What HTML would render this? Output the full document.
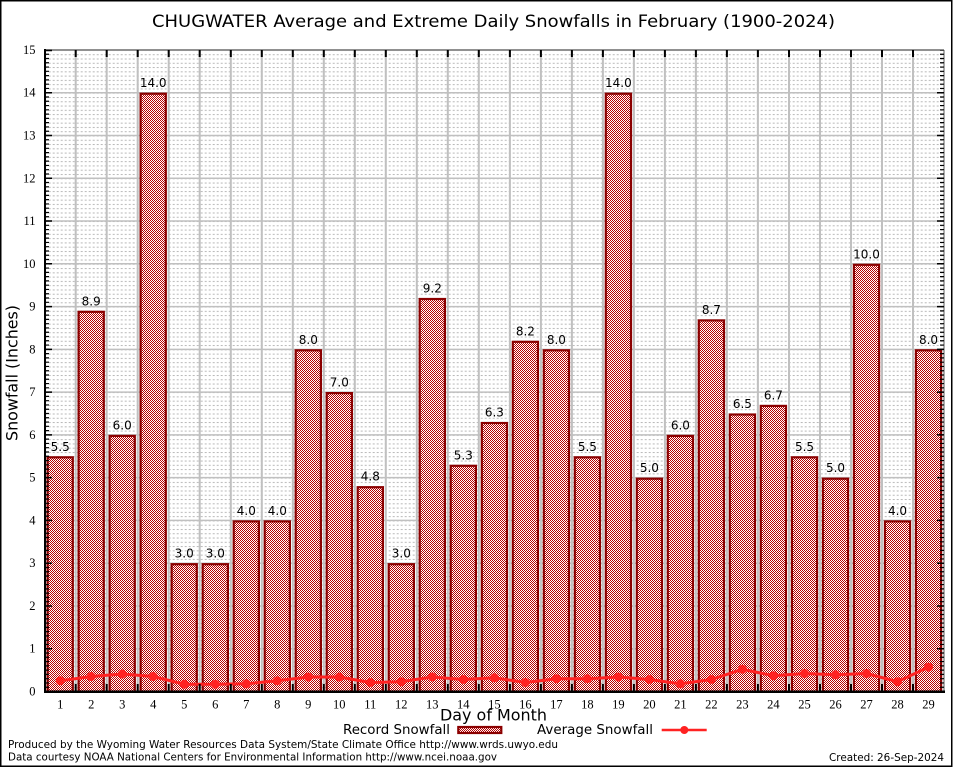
<!DOCTYPE html>
<html>
<head>
<meta charset="utf-8">
<style>
html,body{margin:0;padding:0;background:#fff;}
svg{display:block;}
text{font-family:"DejaVu Sans","Liberation Sans",sans-serif;fill:#000;}
.serif{font-family:"Liberation Serif","DejaVu Serif",serif;font-size:12.5px;}
.val{font-size:12px;text-anchor:middle;}
</style>
</head>
<body>
<svg width="954" height="768" viewBox="0 0 954 768" xmlns="http://www.w3.org/2000/svg">
<defs>
  <pattern id="chk" patternUnits="userSpaceOnUse" width="2" height="2">
    <rect width="2" height="2" fill="#ffffff"/>
    <rect width="1" height="1" fill="#b80000"/>
    <rect x="1" y="1" width="1" height="1" fill="#b80000"/>
  </pattern>
  <pattern id="minor" patternUnits="userSpaceOnUse" x="44.7" y="49.95" width="4" height="4.277">
    <rect x="0" y="0" width="2" height="1" fill="#b8b8b8"/>
  </pattern>
</defs>
<rect x="0" y="0" width="954" height="768" fill="#fff"/>
<rect x="0.75" y="0.75" width="951" height="765.5" fill="none" stroke="#000" stroke-width="1.5"/>

<text x="493.5" y="27" font-size="17" text-anchor="middle" textLength="683" lengthAdjust="spacingAndGlyphs">CHUGWATER Average and Extreme Daily Snowfalls in February (1900-2024)</text>

<rect x="45" y="50" width="899" height="641.5" fill="url(#minor)"/>

<g stroke="#c0c0c0" stroke-width="1.5">
<line x1="45" x2="944" y1="648.73" y2="648.73"/>
<line x1="45" x2="944" y1="605.96" y2="605.96"/>
<line x1="45" x2="944" y1="563.19" y2="563.19"/>
<line x1="45" x2="944" y1="520.42" y2="520.42"/>
<line x1="45" x2="944" y1="477.65" y2="477.65"/>
<line x1="45" x2="944" y1="434.88" y2="434.88"/>
<line x1="45" x2="944" y1="392.11" y2="392.11"/>
<line x1="45" x2="944" y1="349.34" y2="349.34"/>
<line x1="45" x2="944" y1="306.57" y2="306.57"/>
<line x1="45" x2="944" y1="263.8" y2="263.8"/>
<line x1="45" x2="944" y1="221.03" y2="221.03"/>
<line x1="45" x2="944" y1="178.26" y2="178.26"/>
<line x1="45" x2="944" y1="135.49" y2="135.49"/>
<line x1="45" x2="944" y1="92.72" y2="92.72"/>
</g>
<g stroke="#c0c0c0" stroke-width="2">
<line x1="75.7" x2="75.7" y1="50" y2="691"/>
<line x1="106.7" x2="106.7" y1="50" y2="691"/>
<line x1="137.7" x2="137.7" y1="50" y2="691"/>
<line x1="168.7" x2="168.7" y1="50" y2="691"/>
<line x1="199.7" x2="199.7" y1="50" y2="691"/>
<line x1="230.8" x2="230.8" y1="50" y2="691"/>
<line x1="261.8" x2="261.8" y1="50" y2="691"/>
<line x1="292.8" x2="292.8" y1="50" y2="691"/>
<line x1="323.8" x2="323.8" y1="50" y2="691"/>
<line x1="354.8" x2="354.8" y1="50" y2="691"/>
<line x1="385.8" x2="385.8" y1="50" y2="691"/>
<line x1="416.8" x2="416.8" y1="50" y2="691"/>
<line x1="447.8" x2="447.8" y1="50" y2="691"/>
<line x1="478.8" x2="478.8" y1="50" y2="691"/>
<line x1="509.9" x2="509.9" y1="50" y2="691"/>
<line x1="540.9" x2="540.9" y1="50" y2="691"/>
<line x1="571.9" x2="571.9" y1="50" y2="691"/>
<line x1="602.9" x2="602.9" y1="50" y2="691"/>
<line x1="633.9" x2="633.9" y1="50" y2="691"/>
<line x1="664.9" x2="664.9" y1="50" y2="691"/>
<line x1="695.9" x2="695.9" y1="50" y2="691"/>
<line x1="726.9" x2="726.9" y1="50" y2="691"/>
<line x1="757.9" x2="757.9" y1="50" y2="691"/>
<line x1="789" x2="789" y1="50" y2="691"/>
<line x1="820" x2="820" y1="50" y2="691"/>
<line x1="851" x2="851" y1="50" y2="691"/>
<line x1="882" x2="882" y1="50" y2="691"/>
<line x1="913" x2="913" y1="50" y2="691"/>
</g>

<g fill="url(#chk)" stroke="#8b0000" stroke-width="2.2">
<rect x="47.6" y="457.3" width="25.2" height="234.2"/>
<rect x="78.6" y="311.8" width="25.2" height="379.7"/>
<rect x="109.6" y="435.9" width="25.2" height="255.6"/>
<rect x="140.6" y="93.7" width="25.2" height="597.8"/>
<rect x="171.6" y="564.2" width="25.2" height="127.3"/>
<rect x="202.7" y="564.2" width="25.2" height="127.3"/>
<rect x="233.7" y="521.4" width="25.2" height="170.1"/>
<rect x="264.7" y="521.4" width="25.2" height="170.1"/>
<rect x="295.7" y="350.3" width="25.2" height="341.2"/>
<rect x="326.7" y="393.1" width="25.2" height="298.4"/>
<rect x="357.7" y="487.2" width="25.2" height="204.3"/>
<rect x="388.7" y="564.2" width="25.2" height="127.3"/>
<rect x="419.7" y="299" width="25.2" height="392.5"/>
<rect x="450.7" y="465.8" width="25.2" height="225.7"/>
<rect x="481.8" y="423" width="25.2" height="268.5"/>
<rect x="512.8" y="341.8" width="25.2" height="349.7"/>
<rect x="543.8" y="350.3" width="25.2" height="341.2"/>
<rect x="574.8" y="457.3" width="25.2" height="234.2"/>
<rect x="605.8" y="93.7" width="25.2" height="597.8"/>
<rect x="636.8" y="478.7" width="25.2" height="212.8"/>
<rect x="667.8" y="435.9" width="25.2" height="255.6"/>
<rect x="698.8" y="320.4" width="25.2" height="371.1"/>
<rect x="729.8" y="414.5" width="25.2" height="277"/>
<rect x="760.8" y="405.9" width="25.2" height="285.6"/>
<rect x="791.9" y="457.3" width="25.2" height="234.2"/>
<rect x="822.9" y="478.7" width="25.2" height="212.8"/>
<rect x="853.9" y="264.8" width="25.2" height="426.7"/>
<rect x="884.9" y="521.4" width="25.2" height="170.1"/>
<rect x="915.9" y="350.3" width="25.2" height="341.2"/>
</g>

<g class="val">
<text class="val" x="60.2" y="450.8">5.5</text>
<text class="val" x="91.2" y="305.3">8.9</text>
<text class="val" x="122.2" y="429.4">6.0</text>
<text class="val" x="153.2" y="87.2">14.0</text>
<text class="val" x="184.2" y="557.7">3.0</text>
<text class="val" x="215.3" y="557.7">3.0</text>
<text class="val" x="246.3" y="514.9">4.0</text>
<text class="val" x="277.3" y="514.9">4.0</text>
<text class="val" x="308.3" y="343.8">8.0</text>
<text class="val" x="339.3" y="386.6">7.0</text>
<text class="val" x="370.3" y="480.7">4.8</text>
<text class="val" x="401.3" y="557.7">3.0</text>
<text class="val" x="432.3" y="292.5">9.2</text>
<text class="val" x="463.3" y="459.3">5.3</text>
<text class="val" x="494.4" y="416.5">6.3</text>
<text class="val" x="525.4" y="335.3">8.2</text>
<text class="val" x="556.4" y="343.8">8.0</text>
<text class="val" x="587.4" y="450.8">5.5</text>
<text class="val" x="618.4" y="87.2">14.0</text>
<text class="val" x="649.4" y="472.2">5.0</text>
<text class="val" x="680.4" y="429.4">6.0</text>
<text class="val" x="711.4" y="313.9">8.7</text>
<text class="val" x="742.4" y="408">6.5</text>
<text class="val" x="773.4" y="399.4">6.7</text>
<text class="val" x="804.5" y="450.8">5.5</text>
<text class="val" x="835.5" y="472.2">5.0</text>
<text class="val" x="866.5" y="258.3">10.0</text>
<text class="val" x="897.5" y="514.9">4.0</text>
<text class="val" x="928.5" y="343.8">8.0</text>
</g>

<polyline fill="none" stroke="#ff2222" stroke-width="3" stroke-linejoin="round" points="60.2,680.8 91.2,676.5 122.2,674 153.2,676.5 184.2,684.2 215.3,684.2 246.3,683.8 277.3,680.8 308.3,677 339.3,677 370.3,682.5 401.3,681.7 432.3,677 463.3,679.5 494.4,677.8 525.4,682.5 556.4,678.7 587.4,678.7 618.4,677 649.4,679.5 680.4,683.8 711.4,679.5 742.4,669.3 773.4,675.7 804.5,673.5 835.5,674.8 866.5,673.5 897.5,681.7 928.5,667.1"/>
<g fill="#ff2222">
<circle cx="60.2" cy="680.8" r="4.5"/><circle cx="91.2" cy="676.5" r="4.5"/><circle cx="122.2" cy="674" r="4.5"/><circle cx="153.2" cy="676.5" r="4.5"/><circle cx="184.2" cy="684.2" r="4.5"/><circle cx="215.3" cy="684.2" r="4.5"/><circle cx="246.3" cy="683.8" r="4.5"/><circle cx="277.3" cy="680.8" r="4.5"/><circle cx="308.3" cy="677" r="4.5"/><circle cx="339.3" cy="677" r="4.5"/><circle cx="370.3" cy="682.5" r="4.5"/><circle cx="401.3" cy="681.7" r="4.5"/><circle cx="432.3" cy="677" r="4.5"/><circle cx="463.3" cy="679.5" r="4.5"/><circle cx="494.4" cy="677.8" r="4.5"/><circle cx="525.4" cy="682.5" r="4.5"/><circle cx="556.4" cy="678.7" r="4.5"/><circle cx="587.4" cy="678.7" r="4.5"/><circle cx="618.4" cy="677" r="4.5"/><circle cx="649.4" cy="679.5" r="4.5"/><circle cx="680.4" cy="683.8" r="4.5"/><circle cx="711.4" cy="679.5" r="4.5"/><circle cx="742.4" cy="669.3" r="4.5"/><circle cx="773.4" cy="675.7" r="4.5"/><circle cx="804.5" cy="673.5" r="4.5"/><circle cx="835.5" cy="674.8" r="4.5"/><circle cx="866.5" cy="673.5" r="4.5"/><circle cx="897.5" cy="681.7" r="4.5"/><circle cx="928.5" cy="667.1" r="4.5"/>
</g>

<line x1="45" y1="50" x2="944" y2="50" stroke="#909090" stroke-width="2"/>
<line x1="944" y1="50" x2="944" y2="691.5" stroke="#909090" stroke-width="1.5"/>
<line x1="47" y1="691.5" x2="47" y2="50" stroke="#000" stroke-width="4" stroke-dasharray="1.2 3.077" stroke-dashoffset="0.6"/>
<line x1="942" y1="691.5" x2="942" y2="50" stroke="#000" stroke-width="4" stroke-dasharray="1.2 3.077" stroke-dashoffset="0.6"/>
<line x1="45" y1="49" x2="45" y2="692.5" stroke="#000" stroke-width="2"/>
<line x1="44" y1="691.7" x2="945" y2="691.7" stroke="#000" stroke-width="2.5"/>
<g stroke="#000" stroke-width="1.5">
<path d="M45 648.73h7M45 605.96h7M45 563.19h7M45 520.42h7M45 477.65h7M45 434.88h7M45 392.11h7M45 349.34h7M45 306.57h7M45 263.8h7M45 221.03h7M45 178.26h7M45 135.49h7M45 92.72h7M45 50.5h7"/>
<path d="M944 648.73h-7M944 605.96h-7M944 563.19h-7M944 520.42h-7M944 477.65h-7M944 434.88h-7M944 392.11h-7M944 349.34h-7M944 306.57h-7M944 263.8h-7M944 221.03h-7M944 178.26h-7M944 135.49h-7M944 92.72h-7"/>
</g>
<g stroke="#000" stroke-width="2">
<path d="M75.7 50v7M106.7 50v7M137.7 50v7M168.7 50v7M199.7 50v7M230.8 50v7M261.8 50v7M292.8 50v7M323.8 50v7M354.8 50v7M385.8 50v7M416.8 50v7M447.8 50v7M478.8 50v7M509.9 50v7M540.9 50v7M571.9 50v7M602.9 50v7M633.9 50v7M664.9 50v7M695.9 50v7M726.9 50v7M757.9 50v7M789 50v7M820 50v7M851 50v7M882 50v7M913 50v7"/>
<path d="M75.7 691v-7M106.7 691v-7M137.7 691v-7M168.7 691v-7M199.7 691v-7M230.8 691v-7M261.8 691v-7M292.8 691v-7M323.8 691v-7M354.8 691v-7M385.8 691v-7M416.8 691v-7M447.8 691v-7M478.8 691v-7M509.9 691v-7M540.9 691v-7M571.9 691v-7M602.9 691v-7M633.9 691v-7M664.9 691v-7M695.9 691v-7M726.9 691v-7M757.9 691v-7M789 691v-7M820 691v-7M851 691v-7M882 691v-7M913 691v-7"/>
</g>

<g class="serif" text-anchor="end">
<text class="serif" x="35.5" y="695.5">0</text>
<text class="serif" x="35.5" y="652.7">1</text>
<text class="serif" x="35.5" y="610">2</text>
<text class="serif" x="35.5" y="567.2">3</text>
<text class="serif" x="35.5" y="524.4">4</text>
<text class="serif" x="35.5" y="481.6">5</text>
<text class="serif" x="35.5" y="438.9">6</text>
<text class="serif" x="35.5" y="396.1">7</text>
<text class="serif" x="35.5" y="353.3">8</text>
<text class="serif" x="35.5" y="310.6">9</text>
<text class="serif" x="35.5" y="267.8">10</text>
<text class="serif" x="35.5" y="225">11</text>
<text class="serif" x="35.5" y="182.3">12</text>
<text class="serif" x="35.5" y="139.5">13</text>
<text class="serif" x="35.5" y="96.7">14</text>
<text class="serif" x="35.5" y="54">15</text>
</g>

<g class="serif" text-anchor="middle">
<text class="serif" x="60.2" y="708.5">1</text>
<text class="serif" x="91.2" y="708.5">2</text>
<text class="serif" x="122.2" y="708.5">3</text>
<text class="serif" x="153.2" y="708.5">4</text>
<text class="serif" x="184.2" y="708.5">5</text>
<text class="serif" x="215.3" y="708.5">6</text>
<text class="serif" x="246.3" y="708.5">7</text>
<text class="serif" x="277.3" y="708.5">8</text>
<text class="serif" x="308.3" y="708.5">9</text>
<text class="serif" x="339.3" y="708.5">10</text>
<text class="serif" x="370.3" y="708.5">11</text>
<text class="serif" x="401.3" y="708.5">12</text>
<text class="serif" x="432.3" y="708.5">13</text>
<text class="serif" x="463.3" y="708.5">14</text>
<text class="serif" x="494.4" y="708.5">15</text>
<text class="serif" x="525.4" y="708.5">16</text>
<text class="serif" x="556.4" y="708.5">17</text>
<text class="serif" x="587.4" y="708.5">18</text>
<text class="serif" x="618.4" y="708.5">19</text>
<text class="serif" x="649.4" y="708.5">20</text>
<text class="serif" x="680.4" y="708.5">21</text>
<text class="serif" x="711.4" y="708.5">22</text>
<text class="serif" x="742.4" y="708.5">23</text>
<text class="serif" x="773.4" y="708.5">24</text>
<text class="serif" x="804.5" y="708.5">25</text>
<text class="serif" x="835.5" y="708.5">26</text>
<text class="serif" x="866.5" y="708.5">27</text>
<text class="serif" x="897.5" y="708.5">28</text>
<text class="serif" x="928.5" y="708.5">29</text>
</g>

<text x="493.5" y="720.5" font-size="16" text-anchor="middle" textLength="107" lengthAdjust="spacingAndGlyphs">Day of Month</text>
<text transform="translate(17.5,373) rotate(-90)" font-size="16" text-anchor="middle" textLength="136" lengthAdjust="spacingAndGlyphs">Snowfall (Inches)</text>

<text x="343" y="734" font-size="13" textLength="107" lengthAdjust="spacingAndGlyphs">Record Snowfall</text>
<rect x="458.3" y="727" width="43" height="6" fill="url(#chk)" stroke="#8b0000" stroke-width="2.2"/>
<text x="537" y="734" font-size="13" textLength="116" lengthAdjust="spacingAndGlyphs">Average Snowfall</text>
<line x1="661.7" y1="730" x2="706.7" y2="730" stroke="#ff2222" stroke-width="2.5"/>
<circle cx="684.3" cy="730" r="4" fill="#ff2222"/>

<text x="8" y="748" font-size="11" textLength="550" lengthAdjust="spacingAndGlyphs">Produced by the Wyoming Water Resources Data System/State Climate Office http://www.wrds.uwyo.edu</text>
<text x="8" y="760.5" font-size="11" textLength="489" lengthAdjust="spacingAndGlyphs">Data courtesy NOAA National Centers for Environmental Information http://www.ncei.noaa.gov</text>
<text x="829" y="761" font-size="11" textLength="115" lengthAdjust="spacingAndGlyphs">Created: 26-Sep-2024</text>
</svg>
</body>
</html>
